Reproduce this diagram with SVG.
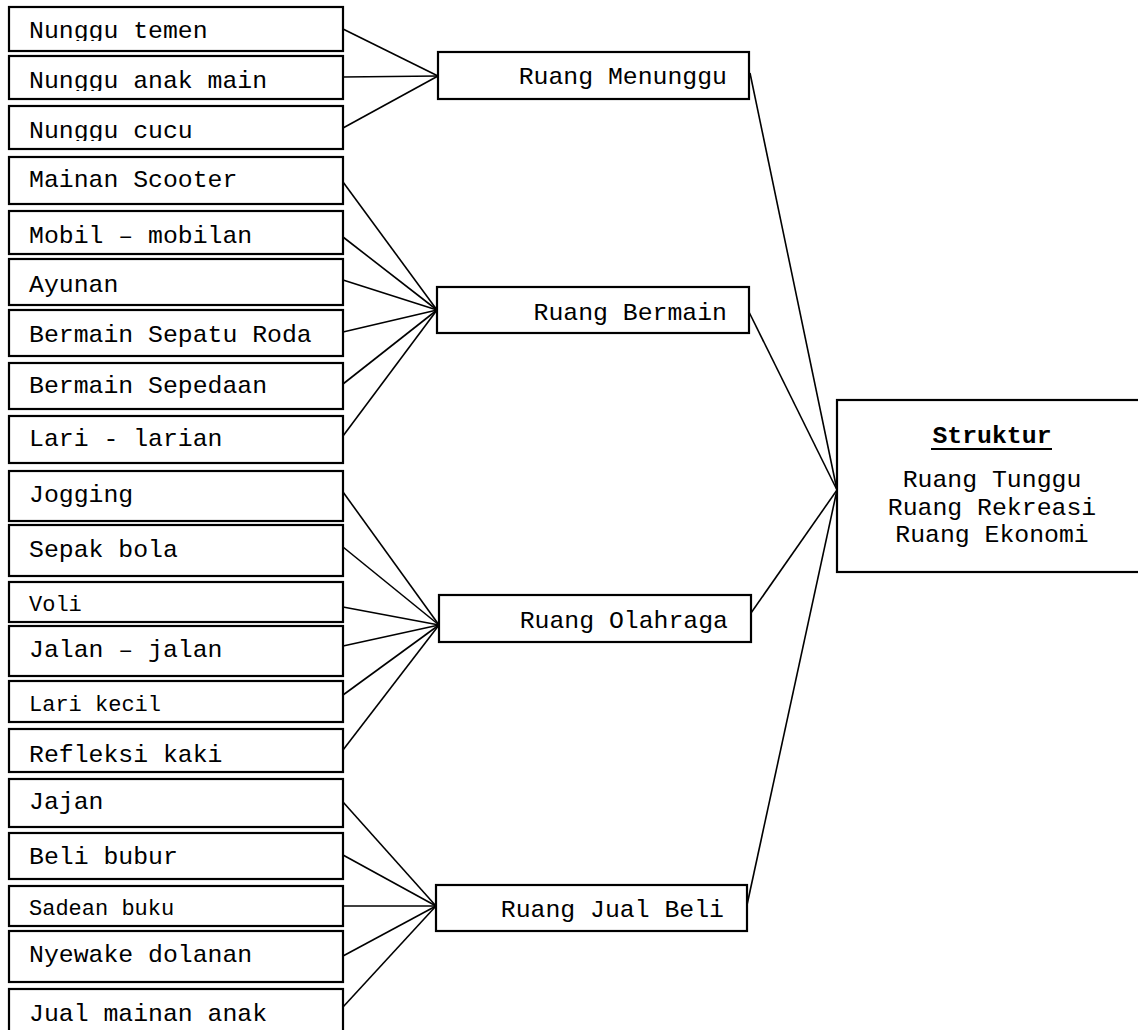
<svg xmlns="http://www.w3.org/2000/svg" width="1138" height="1030" viewBox="0 0 1138 1030">
<style>
.box{fill:#fff;stroke:#000;stroke-width:2.2}
.t{font-family:"Liberation Mono","DejaVu Sans Mono",monospace;font-size:24.8px;fill:#000}
.s{font-size:22px}
.c{stroke:#000;stroke-width:1.6;fill:none}
</style>
<defs>
<clipPath id="c1"><rect x="0" y="0" width="400" height="41"/></clipPath>
<clipPath id="c2"><rect x="0" y="50" width="400" height="41"/></clipPath>
<clipPath id="c3"><rect x="0" y="100" width="400" height="41"/></clipPath>
</defs>
<rect width="1138" height="1030" fill="#fff"/>
<g id="connectors">
<line class="c" x1="343" y1="29" x2="438" y2="76"/>
<line class="c" x1="343" y1="77" x2="438" y2="76"/>
<line class="c" x1="343" y1="128" x2="438" y2="76"/>
<line class="c" x1="343" y1="182" x2="437" y2="310"/>
<line class="c" x1="343" y1="237" x2="437" y2="310"/>
<line class="c" x1="343" y1="280" x2="437" y2="310"/>
<line class="c" x1="343" y1="332" x2="437" y2="310"/>
<line class="c" x1="343" y1="384" x2="437" y2="310"/>
<line class="c" x1="343" y1="436" x2="437" y2="310"/>
<line class="c" x1="343" y1="492" x2="439" y2="625"/>
<line class="c" x1="343" y1="547" x2="439" y2="625"/>
<line class="c" x1="343" y1="607" x2="439" y2="625"/>
<line class="c" x1="343" y1="646" x2="439" y2="625"/>
<line class="c" x1="343" y1="695" x2="439" y2="625"/>
<line class="c" x1="343" y1="750" x2="439" y2="625"/>
<line class="c" x1="343" y1="802" x2="436" y2="906"/>
<line class="c" x1="343" y1="855" x2="436" y2="906"/>
<line class="c" x1="343" y1="906" x2="436" y2="906"/>
<line class="c" x1="343" y1="956" x2="436" y2="906"/>
<line class="c" x1="343" y1="1007" x2="436" y2="906"/>
<line class="c" x1="750" y1="73" x2="837" y2="490"/>
<line class="c" x1="749" y1="312" x2="837" y2="490"/>
<line class="c" x1="751" y1="613" x2="837" y2="490"/>
<line class="c" x1="747" y1="905" x2="837" y2="490"/>
</g>
<g id="n1"><rect class="box" x="9" y="7" width="334" height="44"/><text class="t" x="29" y="38" clip-path="url(#c1)">Nunggu temen</text></g>
<g id="n2"><rect class="box" x="9" y="56" width="334" height="43"/><text class="t" x="29" y="88" clip-path="url(#c2)">Nunggu anak main</text></g>
<g id="n3"><rect class="box" x="9" y="106" width="334" height="43"/><text class="t" x="29" y="138" clip-path="url(#c3)">Nunggu cucu</text></g>
<g id="n4"><rect class="box" x="9" y="157" width="334" height="47"/><text class="t" x="29" y="187">Mainan Scooter</text></g>
<g id="n5"><rect class="box" x="9" y="211" width="334" height="43"/><text class="t" x="29" y="243">Mobil – mobilan</text></g>
<g id="n6"><rect class="box" x="9" y="259" width="334" height="46"/><text class="t" x="29" y="292">Ayunan</text></g>
<g id="n7"><rect class="box" x="9" y="310" width="334" height="46"/><text class="t" x="29" y="342">Bermain Sepatu Roda</text></g>
<g id="n8"><rect class="box" x="9" y="363" width="334" height="46"/><text class="t" x="29" y="393">Bermain Sepedaan</text></g>
<g id="n9"><rect class="box" x="9" y="416" width="334" height="47"/><text class="t" x="29" y="446">Lari - larian</text></g>
<g id="n10"><rect class="box" x="9" y="471" width="334" height="50"/><text class="t" x="29" y="502">Jogging</text></g>
<g id="n11"><rect class="box" x="9" y="525" width="334" height="51"/><text class="t" x="29" y="557">Sepak bola</text></g>
<g id="n12"><rect class="box" x="9" y="582" width="334" height="40"/><text class="t s" x="29" y="611">Voli</text></g>
<g id="n13"><rect class="box" x="9" y="626" width="334" height="50"/><text class="t" x="29" y="657">Jalan – jalan</text></g>
<g id="n14"><rect class="box" x="9" y="681" width="334" height="41"/><text class="t s" x="29" y="711">Lari kecil</text></g>
<g id="n15"><rect class="box" x="9" y="729" width="334" height="43"/><text class="t" x="29" y="762">Refleksi kaki</text></g>
<g id="n16"><rect class="box" x="9" y="779" width="334" height="48"/><text class="t" x="29" y="809">Jajan</text></g>
<g id="n17"><rect class="box" x="9" y="833" width="334" height="46"/><text class="t" x="29" y="864">Beli bubur</text></g>
<g id="n18"><rect class="box" x="9" y="886" width="334" height="40"/><text class="t s" x="29" y="915">Sadean buku</text></g>
<g id="n19"><rect class="box" x="9" y="931" width="334" height="51"/><text class="t" x="29" y="962">Nyewake dolanan</text></g>
<g id="n20"><rect class="box" x="9" y="989" width="334" height="50"/><text class="t" x="29" y="1021">Jual mainan anak</text></g>
<g id="m1"><rect class="box" x="438" y="52" width="311" height="47"/><text class="t" x="727" y="84" text-anchor="end">Ruang Menunggu</text></g>
<g id="m2"><rect class="box" x="437" y="287" width="312" height="46"/><text class="t" x="727" y="320" text-anchor="end">Ruang Bermain</text></g>
<g id="m3"><rect class="box" x="439" y="595" width="312" height="47"/><text class="t" x="728" y="628" text-anchor="end">Ruang Olahraga</text></g>
<g id="m4"><rect class="box" x="436" y="885" width="311" height="46"/><text class="t" x="724" y="917" text-anchor="end">Ruang Jual Beli</text></g>
<g id="struktur"><rect class="box" x="837" y="400" width="310" height="172"/>
<text class="t" x="992" y="443" text-anchor="middle" font-weight="bold">Struktur</text>
<line x1="931" y1="449" x2="1052" y2="449" stroke="#000" stroke-width="2"/>
<text class="t" x="992" y="487" text-anchor="middle">Ruang Tunggu</text>
<text class="t" x="992" y="515" text-anchor="middle">Ruang Rekreasi</text>
<text class="t" x="992" y="542" text-anchor="middle">Ruang Ekonomi</text>
</g>
</svg>
